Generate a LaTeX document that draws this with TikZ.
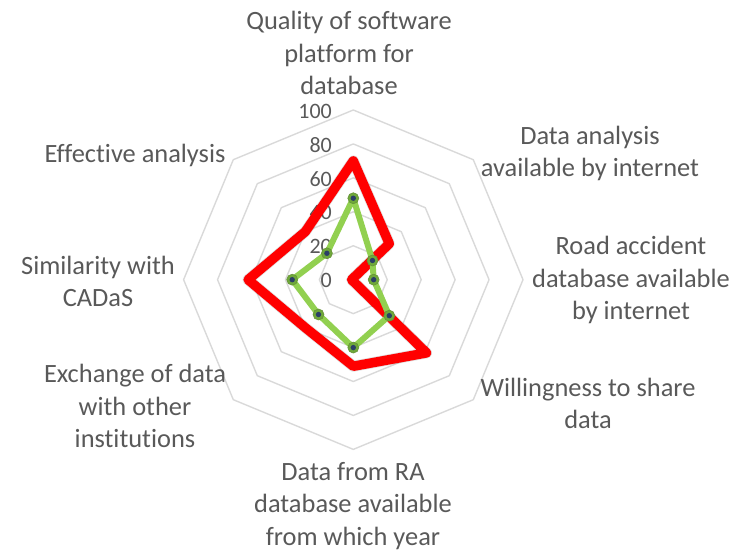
\documentclass[tikz,border=0pt]{standalone}
\usepackage{fontspec}
\setmainfont{Carlito}[RawFeature={-liga;-clig;-calt;-dlig}]
\definecolor{txtgray}{HTML}{595959}
\definecolor{gridgray}{HTML}{D9D9D9}
\definecolor{seriesgreen}{HTML}{92D050}
\definecolor{markgreen}{HTML}{6FA83A}
\definecolor{markblue}{HTML}{2B3F66}
\begin{document}
\begin{tikzpicture}[x=1pt,y=1pt,
  lbl/.style={font=\fontsize{26.4}{32.5}\selectfont, text=txtgray, align=center, inner sep=0pt},
  ticklbl/.style={font=\fontsize{22}{26}\selectfont, text=txtgray, anchor=east, inner sep=0pt},
  gridline/.style={draw=gridgray, line width=1.4pt, line join=round},
  redseries/.style={draw=red, line width=9.5pt, line join=round},
  redshadow/.style={draw=black, line width=11pt, line join=round, opacity=0.12},
  greenseries/.style={draw=seriesgreen, line width=6pt, line join=round},
  markerdot/.style={circle, fill=markgreen, draw=seriesgreen!70!black, line width=0.6pt, minimum size=11pt, inner sep=0pt, path picture={\fill[markblue] (path picture bounding box.center) circle (2.7pt);}}
]
\useasboundingbox (0,0) rectangle (745,553);
\coordinate (C) at (353.3,273.3);
% grid rings
\begin{scope}[shift={(353.3,273.3)}, x=1.697pt, y=1.697pt]
  \foreach \r in {20,40,60,80,100}{
    \draw[gridline] (90:\r) -- (45:\r) -- (0:\r) -- (-45:\r) -- (-90:\r) -- (-135:\r) -- (180:\r) -- (135:\r) -- cycle;
  }
  % red series points
  \coordinate (r1) at (90:70);
  \coordinate (r2) at (45:30);
  \coordinate (r3) at (0:-1);
  \coordinate (r4) at (-45:61);
  \coordinate (r5) at (-90:51);
  \coordinate (r6) at (-135:40);
  \coordinate (r7) at (180:62);
  \coordinate (r8) at (135:40);
  % green series points
  \coordinate (g1) at (90:48);
  \coordinate (g2) at (45:16);
  \coordinate (g3) at (0:12);
  \coordinate (g4) at (-45:30);
  \coordinate (g5) at (-90:40);
  \coordinate (g6) at (-135:29);
  \coordinate (g7) at (180:36);
  \coordinate (g8) at (135:22);
\end{scope}
% tick labels
\node[ticklbl] (t0) at (332,272.3) {0};
\node[ticklbl] (t20) at (332,306.2) {20};
\node[ticklbl] (t40) at (332,340.2) {40};
\node[ticklbl] (t60) at (332,374.1) {60};
\node[ticklbl] (t80) at (332,408.1) {80};
\node[ticklbl] (t100) at (332,442.0) {100};
% red series with shadow
\begin{scope}[shift={(2pt,-3pt)}]
  \draw[redshadow] (r1) -- (r2) -- (r3) -- (r4) -- (r5) -- (r6) -- (r7) -- (r8) -- cycle;
\end{scope}
\draw[redseries] (r1) -- (r2) -- (r3) -- (r4) -- (r5) -- (r6) -- (r7) -- (r8) -- cycle;
% green series
\draw[greenseries] (g1) -- (g2) -- (g3) -- (g4) -- (g5) -- (g6) -- (g7) -- (g8) -- cycle;
\foreach \p in {g1,g2,g3,g4,g5,g6,g7,g8}{
  \node[markerdot] (m\p) at (\p) {};
}
% category labels
\node[lbl] (lq) at (349,500) {Quality of software\\platform for\\database};
\node[lbl] (lda) at (590,399.5) {Data analysis\\available by internet};
\node[lbl] (lra) at (631,273) {Road accident\\database available\\by internet};
\node[lbl] (lw) at (588,149.5) {Willingness to share\\data};
\node[lbl] (lfr) at (353,47) {Data from RA\\database available\\from which year};
\node[lbl] (lex) at (135,147) {Exchange of data\\with other\\institutions};
\node[lbl] (lsim) at (98,271.5) {Similarity with\\CADaS};
\node[lbl] (lef) at (135,398) {Effective analysis};
\end{tikzpicture}
\end{document}
